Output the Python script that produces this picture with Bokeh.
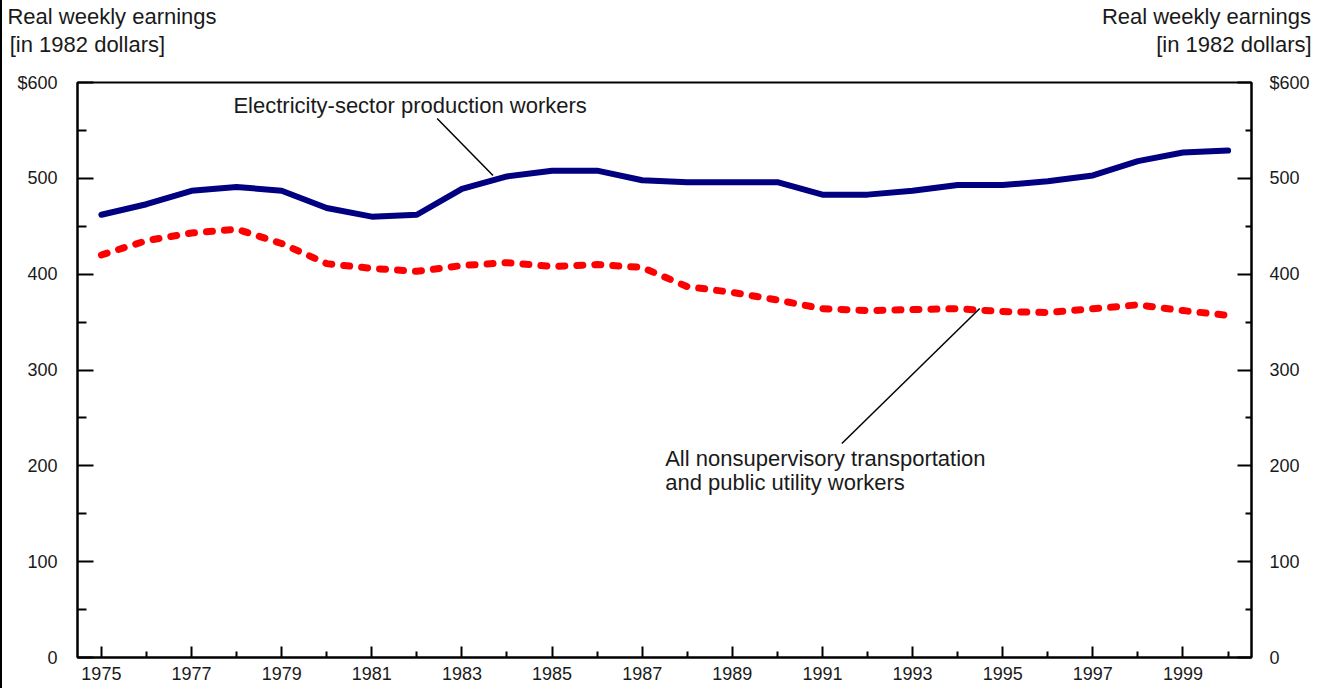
from bokeh.plotting import figure
from bokeh.models import FixedTicker, LinearAxis, Range1d, Label, ColumnDataSource
from bokeh.embed import file_html
from bokeh.resources import INLINE

years = list(range(1975, 2001))
electricity = [462, 473, 487, 491, 487, 469, 460, 462, 489, 502, 508, 508, 498,
               496, 496, 496, 483, 483, 487, 493, 493, 497, 503, 518, 527, 529]
transport_utility = [420, 435, 443, 447, 432, 411, 406, 403, 409, 412, 408, 410, 407,
                     387, 381, 373, 364, 362, 363, 364, 361, 360, 364, 368, 362, 357]
y_ticks = [0, 100, 200, 300, 400, 500, 600]
y_minor = [50, 150, 250, 350, 450, 550]
x_ticks = list(range(1975, 2000, 2))
x_minor = list(range(1976, 2001, 2))
title_line1 = "Real weekly earnings"
title_line2 = "[in 1982 dollars]"

FONT = "Liberation Sans"

p = figure(width=1318, height=688, output_backend="svg", toolbar_location=None,
           x_range=Range1d(1974.47, 2000.52), y_range=Range1d(0, 600),
           min_border_left=75, min_border_right=69, min_border_top=82, min_border_bottom=31)
p.styles = {"border-left": "2px solid black"}
p.grid.visible = False
p.outline_line_color = "black"
p.outline_line_width = 2
p.background_fill_color = "white"
p.border_fill_color = "white"

def style_axis(ax, major_in, minor_in, standoff, size="18px"):
    ax.axis_line_color = "black"
    ax.axis_line_width = 2
    ax.major_tick_line_color = "black"
    ax.major_tick_line_width = 2
    ax.minor_tick_line_color = "black"
    ax.minor_tick_line_width = 2
    ax.major_tick_in = major_in
    ax.major_tick_out = 0
    ax.minor_tick_in = minor_in
    ax.minor_tick_out = 0
    ax.major_label_text_font = FONT
    ax.major_label_text_font_size = size
    ax.major_label_text_color = "#1a1a1a"
    ax.major_label_standoff = standoff

xa = p.xaxis[0]
xa.ticker = FixedTicker(ticks=x_ticks, minor_ticks=x_minor)
style_axis(xa, 11, 6, 9)

ya = p.yaxis[0]
ya.ticker = FixedTicker(ticks=y_ticks, minor_ticks=y_minor)
ya.major_label_overrides = {600: "$600"}
style_axis(ya, 16, 9, 20)

ra = LinearAxis(ticker=FixedTicker(ticks=y_ticks, minor_ticks=y_minor))
ra.major_label_overrides = {600: "$600"}
style_axis(ra, 14, 6, 18)
p.add_layout(ra, "right")

# unit titles above the frame, drawn as label-only axes
def title_axis(centers, text, standoff):
    ax = LinearAxis(ticker=FixedTicker(ticks=centers, minor_ticks=[]))
    ax.major_label_overrides = {c: text for c in centers}
    style_axis(ax, 0, 0, standoff, size="22px")
    ax.axis_line_color = None
    ax.major_tick_line_color = None
    ax.minor_tick_line_color = None
    p.add_layout(ax, "above")

title_axis([1974.69, 2000.13], title_line2, 26)
title_axis([1975.236, 1999.52], title_line1, 0)

src = ColumnDataSource(dict(year=years, elec=electricity, tpu=transport_utility))
p.line("year", "tpu", source=src, line_color="#ff0000", line_width=7,
       line_dash="6 12", line_cap="round", line_join="round")
p.line("year", "elec", source=src, line_color="#000080", line_width=6,
       line_cap="round", line_join="round")

# leader lines
p.line([1982.45, 1983.69], [562.5, 503], line_color="black", line_width=1.5)
p.line([1991.43, 1994.49], [223.3, 364.2], line_color="black", line_width=1.5)

def lab(x, y, text):
    p.add_layout(Label(x=x, y=y, text=text, text_font=FONT, text_font_size="22px",
                       text_color="#1a1a1a", text_align="left", text_baseline="middle"))

lab(1977.93, 576.0, "Electricity-sector production workers")
lab(1987.51, 207.7, "All nonsupervisory transportation")
lab(1987.51, 182.6, "and public utility workers")

open("out.html", "w").write(file_html(p, INLINE))
